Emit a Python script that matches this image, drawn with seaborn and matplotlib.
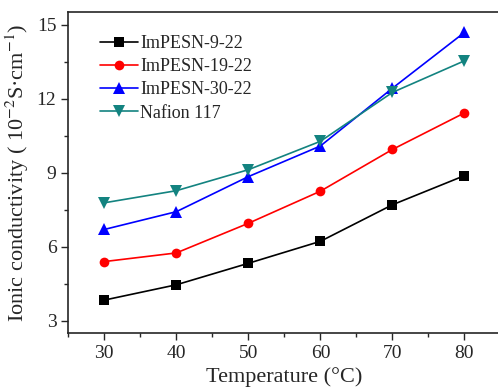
import numpy as np
import pandas as pd
import matplotlib
matplotlib.use("Agg")
import matplotlib.pyplot as plt
import seaborn as sns
from matplotlib.ticker import MultipleLocator

temperature = [30, 40, 50, 60, 70, 80]
impesn_9 = [3.84, 4.46, 5.33, 6.22, 7.70, 8.88]
impesn_19 = [5.40, 5.75, 6.95, 8.25, 9.94, 11.42]
impesn_30 = [6.70, 7.42, 8.84, 10.08, 12.42, 14.68]
nafion = [7.78, 8.27, 9.12, 10.27, 12.25, 13.53]

series = ["ImPESN-9-22", "ImPESN-19-22", "ImPESN-30-22", "Nafion 117"]
values = [impesn_9, impesn_19, impesn_30, nafion]

df = pd.DataFrame({
    "T": temperature * len(series),
    "sigma": np.concatenate(values),
    "sample": np.repeat(series, len(temperature)),
})

sns.set_style("ticks")
plt.rcParams["font.family"] = ["Liberation Serif", "DejaVu Serif"]
plt.rcParams["mathtext.fontset"] = "stix"

fig = plt.figure(figsize=(4.98, 3.92), dpi=100)
# the original is cropped on the right, so the frame runs off the edge
ax = fig.add_axes([0.137, 0.15, 0.868, 0.819])

palette = {"ImPESN-9-22": "black", "ImPESN-19-22": "red",
           "ImPESN-30-22": "blue", "Nafion 117": "#138380"}
markers = {"ImPESN-9-22": "s", "ImPESN-19-22": "o",
           "ImPESN-30-22": "^", "Nafion 117": "v"}

sns.lineplot(data=df, x="T", y="sigma", hue="sample", style="sample",
             palette=palette, markers=markers, dashes=False,
             markersize=7, markeredgewidth=0, linewidth=1.2, ax=ax)

# triangles look a bit larger in the original
for line in ax.lines:
    if line.get_marker() in ("^", "v"):
        line.set_markersize(8)

ax.set_xlim(25, 85)
ax.set_ylim(2.5, 15.5)
ax.xaxis.set_major_locator(MultipleLocator(10))
ax.xaxis.set_minor_locator(MultipleLocator(5))
ax.yaxis.set_major_locator(MultipleLocator(3))
ax.yaxis.set_minor_locator(MultipleLocator(1.5))
ax.tick_params(which="major", direction="out", length=5, width=1, labelsize=14)
ax.tick_params(which="minor", direction="out", length=3, width=1)
for s in ax.spines.values():
    s.set_linewidth(1.2)
ax.spines["right"].set_visible(False)

ax.set_xlabel("Temperature (°C)", fontsize=16)
ax.set_ylabel("Ionic conductivity ( 10$^{-2}$S·cm$^{-1}$)", fontsize=16)

leg = ax.legend(frameon=False, loc="upper left", fontsize=13,
                bbox_to_anchor=(0.035, 0.98), handlelength=2.1,
                handletextpad=0.15, labelspacing=0.35)
for h in leg.legend_handles:
    if h.get_marker() in ("^", "v"):
        h.set_markersize(8)

fig.savefig("out.png", dpi=100)
